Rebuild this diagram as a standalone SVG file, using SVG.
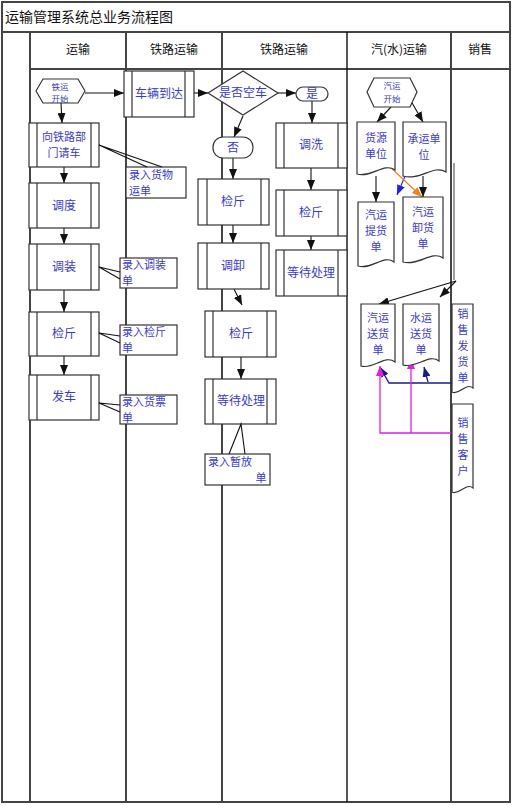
<svg xmlns="http://www.w3.org/2000/svg" width="513" height="805" viewBox="0 0 513 805">
<defs>
<style>
text{font-family:"Noto Sans CJK SC","Noto Sans",sans-serif;font-size:12px;text-anchor:middle}
.t{fill:#3a3acc}
.h{fill:#111}
.s{font-size:8.5px}
.m{font-size:11px}
.box{fill:#fff;stroke:#333;stroke-width:1.2}
.in{stroke:#333;stroke-width:1.2}
.lane{stroke:#444;stroke-width:2;fill:none}
.c{stroke:#111;stroke-width:1.1;fill:none}
.l{text-anchor:start}
</style>
<marker id="a" markerUnits="userSpaceOnUse" markerWidth="10" markerHeight="8" refX="10" refY="4" orient="auto"><path d="M0,0L10,4L0,8z" fill="#111"/></marker>
<marker id="ab" markerUnits="userSpaceOnUse" markerWidth="10" markerHeight="8" refX="10" refY="4" orient="auto"><path d="M0,0L10,4L0,8z" fill="#1f1fe0"/></marker>
<marker id="an" markerUnits="userSpaceOnUse" markerWidth="10" markerHeight="8" refX="10" refY="4" orient="auto"><path d="M0,0L10,4L0,8z" fill="#1a1a90"/></marker>
<marker id="ao" markerUnits="userSpaceOnUse" markerWidth="10" markerHeight="8" refX="10" refY="4" orient="auto"><path d="M0,0L10,4L0,8z" fill="#f08020"/></marker>
<marker id="am" markerUnits="userSpaceOnUse" markerWidth="10" markerHeight="8" refX="10" refY="4" orient="auto"><path d="M0,0L10,4L0,8z" fill="#e020e0"/></marker>
</defs>
<rect x="0" y="0" width="513" height="805" fill="#fff"/>
<g id="frame">
<rect x="2" y="2" width="508" height="800" class="lane"/>
<line x1="2" y1="32" x2="510" y2="32" class="lane"/>
<line x1="30" y1="69" x2="510" y2="69" class="lane"/>
<line x1="30" y1="32" x2="30" y2="802" class="lane"/>
<line x1="126" y1="32" x2="126" y2="802" class="lane"/>
<line x1="222" y1="32" x2="222" y2="802" class="lane"/>
<line x1="347" y1="32" x2="347" y2="802" stroke="#111" stroke-width="1.4"/>
<line x1="451" y1="32" x2="451" y2="802" class="lane"/>
<text x="5" y="22" class="h l" style="font-size:14px">运输管理系统总业务流程图</text>
<text x="78" y="54" class="h">运输</text>
<text x="174" y="54" class="h">铁路运输</text>
<text x="284" y="54" class="h">铁路运输</text>
<text x="399" y="54" class="h">汽(水)运输</text>
<text x="480" y="54" class="h">销售</text>
</g>
<g id="connectors">
<line x1="85" y1="93" x2="124" y2="93" class="c" marker-end="url(#a)"/>
<line x1="194" y1="93" x2="208" y2="93" class="c" marker-end="url(#a)"/>
<line x1="278" y1="93" x2="296" y2="93" class="c" marker-end="url(#a)"/>
<line x1="243" y1="116" x2="234" y2="137" class="c" marker-end="url(#a)"/>
<line x1="312" y1="101" x2="312" y2="123" class="c" marker-end="url(#a)"/>
<line x1="233" y1="158" x2="233" y2="179" class="c" marker-end="url(#a)"/>
<line x1="233" y1="225" x2="233" y2="243" class="c" marker-end="url(#a)"/>
<line x1="234" y1="289" x2="242" y2="305" class="c" marker-end="url(#a)"/>
<line x1="241" y1="357" x2="241" y2="379" class="c" marker-end="url(#a)"/>
<line x1="61" y1="103" x2="62" y2="123" class="c" marker-end="url(#a)"/>
<line x1="64" y1="167" x2="64" y2="183" class="c" marker-end="url(#a)"/>
<line x1="64" y1="228" x2="64" y2="244" class="c" marker-end="url(#a)"/>
<line x1="64" y1="290" x2="64" y2="312" class="c" marker-end="url(#a)"/>
<line x1="64" y1="356" x2="64" y2="375" class="c" marker-end="url(#a)"/>
<line x1="311" y1="168" x2="311" y2="190" class="c" marker-end="url(#a)"/>
<line x1="311" y1="236" x2="311" y2="250" class="c" marker-end="url(#a)"/>
<line x1="391" y1="107" x2="377" y2="122" class="c" marker-end="url(#a)"/>
<line x1="411" y1="101" x2="423" y2="122" class="c" marker-end="url(#a)"/>
<line x1="376" y1="176" x2="376" y2="202" class="c" marker-end="url(#a)"/>
<line x1="423" y1="176" x2="423" y2="197" class="c" marker-end="url(#a)"/>
<line x1="411" y1="162" x2="397" y2="195" stroke="#1f1fe0" stroke-width="1.1" marker-end="url(#ab)"/>
<line x1="389" y1="166" x2="422" y2="197" stroke="#f08020" stroke-width="1.1" marker-end="url(#ao)"/>
<line x1="454" y1="163" x2="454" y2="280" stroke="#888" stroke-width="1.6"/>
<line x1="456" y1="281" x2="379" y2="304" class="c" marker-end="url(#a)"/>
<line x1="456" y1="281" x2="440" y2="297" class="c" marker-end="url(#a)"/>
<polyline points="461,383 389,383 380,367" stroke="#1a1a90" stroke-width="1.3" fill="none" marker-end="url(#an)"/>
<line x1="428" y1="382" x2="424" y2="367" stroke="#1a1a90" stroke-width="1.3" marker-end="url(#an)"/>
<polyline points="460,433 380,433 380,366" stroke="#e020e0" stroke-width="1.3" fill="none" marker-end="url(#am)"/>
<line x1="411" y1="433" x2="411" y2="359" stroke="#e020e0" stroke-width="1.3" marker-end="url(#am)"/>
</g>
<g id="n_tieyun_start">
<polygon points="36,91 43,79 78,79 85,91 78,103 43,103" class="box"/>
<text x="60" y="89.5" class="t s">铁运</text>
<text x="60" y="102" class="t s">开始</text>
</g>
<g id="n_cheliang">
<rect x="124" y="71" width="70" height="46" class="box"/>
<line x1="132" y1="71" x2="132" y2="117" class="in"/><line x1="185" y1="71" x2="185" y2="117" class="in"/>
<text x="159" y="98" class="t">车辆到达</text>
</g>
<g id="n_kongche">
<polygon points="243,71 278,93 243,115 208,93" class="box"/>
<text x="243" y="97" class="t">是否空车</text>
</g>
<g id="n_shi">
<rect x="296" y="87" width="32" height="14" rx="7" class="box"/>
<text x="312" y="98" class="t">是</text>
</g>
<g id="n_fou">
<rect x="213" y="137" width="40" height="21" rx="10" class="box"/>
<text x="233" y="152" class="t">否</text>
</g>
<g id="n_qingche">
<rect x="29" y="123" width="70" height="44" class="box"/>
<line x1="37" y1="123" x2="37" y2="167" class="in"/><line x1="91" y1="123" x2="91" y2="167" class="in"/>
<text x="64" y="141" class="t m">向铁路部</text>
<text x="64" y="157" class="t m">门请车</text>
</g>
<g id="n_diaodu">
<rect x="29" y="183" width="70" height="45" class="box"/>
<line x1="37" y1="183" x2="37" y2="228" class="in"/><line x1="91" y1="183" x2="91" y2="228" class="in"/>
<text x="64" y="210" class="t">调度</text>
</g>
<g id="n_diaozhuang">
<rect x="29" y="244" width="70" height="46" class="box"/>
<line x1="37" y1="244" x2="37" y2="290" class="in"/><line x1="91" y1="244" x2="91" y2="290" class="in"/>
<text x="64" y="271" class="t">调装</text>
</g>
<g id="n_jianjin1">
<rect x="29" y="312" width="70" height="44" class="box"/>
<line x1="37" y1="312" x2="37" y2="356" class="in"/><line x1="91" y1="312" x2="91" y2="356" class="in"/>
<text x="64" y="338" class="t">检斤</text>
</g>
<g id="n_fache">
<rect x="29" y="375" width="70" height="45" class="box"/>
<line x1="37" y1="375" x2="37" y2="420" class="in"/><line x1="91" y1="375" x2="91" y2="420" class="in"/>
<text x="64" y="401" class="t">发车</text>
</g>
<g id="n_note_huowu">
<rect x="126" y="167" width="60" height="31" class="box"/>
<polyline points="147,167 99,145 162,167" class="c"/>
<text x="129" y="179" class="t l m">录入货物</text>
<text x="129" y="195" class="t l m">运单</text>
</g>
<g id="n_note_diaozhuang">
<rect x="120" y="258" width="57" height="30" class="box"/>
<polyline points="120,272 99,267 120,279" class="c"/>
<text x="122" y="269" class="t l m">录入调装</text>
<text x="122" y="285" class="t l m">单</text>
</g>
<g id="n_note_jianjin">
<rect x="120" y="325" width="57" height="30" class="box"/>
<polyline points="120,336 99,333 120,343" class="c"/>
<text x="122" y="336" class="t l m">录入检斤</text>
<text x="122" y="352" class="t l m">单</text>
</g>
<g id="n_note_huopiao">
<rect x="120" y="395" width="57" height="29" class="box"/>
<polyline points="120,405 99,403 120,412" class="c"/>
<text x="122" y="406" class="t l m">录入货票</text>
<text x="122" y="422" class="t l m">单</text>
</g>
<g id="n_jianjin2">
<rect x="198" y="179" width="71" height="46" class="box"/>
<line x1="207" y1="179" x2="207" y2="225" class="in"/><line x1="261" y1="179" x2="261" y2="225" class="in"/>
<text x="233" y="206" class="t">检斤</text>
</g>
<g id="n_diaoxie">
<rect x="198" y="243" width="71" height="46" class="box"/>
<line x1="207" y1="243" x2="207" y2="289" class="in"/><line x1="261" y1="243" x2="261" y2="289" class="in"/>
<text x="233" y="270" class="t">调卸</text>
</g>
<g id="n_jianjin3">
<rect x="205" y="311" width="71" height="46" class="box"/>
<line x1="213" y1="311" x2="213" y2="357" class="in"/><line x1="267" y1="311" x2="267" y2="357" class="in"/>
<text x="241" y="338" class="t">检斤</text>
</g>
<g id="n_dengdai1">
<rect x="205" y="379" width="71" height="45" class="box"/>
<line x1="213" y1="379" x2="213" y2="424" class="in"/><line x1="267" y1="379" x2="267" y2="424" class="in"/>
<text x="241" y="405" class="t">等待处理</text>
</g>
<g id="n_note_zanfang">
<rect x="205" y="454" width="65" height="31" class="box"/>
<polyline points="229,454 241,424 245,454" class="c"/>
<text x="208" y="466" class="t l m">录入暂放</text>
<text x="261" y="482" class="t m">单</text>
</g>
<g id="n_diaoxi">
<rect x="276" y="123" width="71" height="45" class="box"/>
<line x1="284" y1="123" x2="284" y2="168" class="in"/><line x1="338" y1="123" x2="338" y2="168" class="in"/>
<text x="311" y="149" class="t">调洗</text>
</g>
<g id="n_jianjin4">
<rect x="276" y="190" width="71" height="46" class="box"/>
<line x1="284" y1="190" x2="284" y2="236" class="in"/><line x1="338" y1="190" x2="338" y2="236" class="in"/>
<text x="311" y="217" class="t">检斤</text>
</g>
<g id="n_dengdai2">
<rect x="276" y="250" width="71" height="46" class="box"/>
<line x1="284" y1="250" x2="284" y2="296" class="in"/><line x1="338" y1="250" x2="338" y2="296" class="in"/>
<text x="311" y="277" class="t">等待处理</text>
</g>
<g id="n_qiyun_start">
<polygon points="367,92 374,78 410,78 417,92 410,107 374,107" class="box"/>
<text x="392" y="89" class="t s">汽运</text>
<text x="392" y="102" class="t s">开始</text>
</g>
<g id="n_huoyuan">
<path d="M357,122H395V170C384,162 372,178 357,174Z" class="box"/>
<text x="376" y="142" class="t m">货源</text>
<text x="376" y="158" class="t m">单位</text>
</g>
<g id="n_chengyun">
<path d="M403,122H446V172C434,164 420,181 403,176Z" class="box"/>
<text x="424" y="143" class="t m">承运单</text>
<text x="424" y="159" class="t m">位</text>
</g>
<g id="n_tihuo">
<path d="M358,202H394V262C384,254 372,270 358,266Z" class="box"/>
<text x="376" y="219" class="t m">汽运</text>
<text x="376" y="235" class="t m">提货</text>
<text x="376" y="251" class="t m">单</text>
</g>
<g id="n_xiehuo">
<path d="M403,197H443V258C432,250 419,266 403,262Z" class="box"/>
<text x="423" y="216" class="t m">汽运</text>
<text x="423" y="232" class="t m">卸货</text>
<text x="423" y="248" class="t m">单</text>
</g>
<g id="n_qisong">
<path d="M361,304H395V362C385,354 373,370 361,366Z" class="box"/>
<text x="378" y="322" class="t m">汽运</text>
<text x="378" y="338" class="t m">送货</text>
<text x="378" y="354" class="t m">单</text>
</g>
<g id="n_shuisong">
<path d="M403,304H439V361C429,353 416,369 403,365Z" class="box"/>
<text x="421" y="322" class="t m">水运</text>
<text x="421" y="338" class="t m">送货</text>
<text x="421" y="354" class="t m">单</text>
</g>
<g id="n_xiaoshou_fahuo">
<path d="M452,304H473V388C466,382 459,396 452,392Z" class="box"/>
<text x="463" y="318" class="t m">销</text>
<text x="463" y="334" class="t m">售</text>
<text x="463" y="350" class="t m">发</text>
<text x="463" y="366" class="t m">货</text>
<text x="463" y="382" class="t m">单</text>
</g>
<g id="n_xiaoshou_kehu">
<path d="M452,404H473V488C466,482 459,496 452,492Z" class="box"/>
<text x="463" y="427" class="t m">销</text>
<text x="463" y="443" class="t m">售</text>
<text x="463" y="459" class="t m">客</text>
<text x="463" y="475" class="t m">户</text>
</g>
</svg>
